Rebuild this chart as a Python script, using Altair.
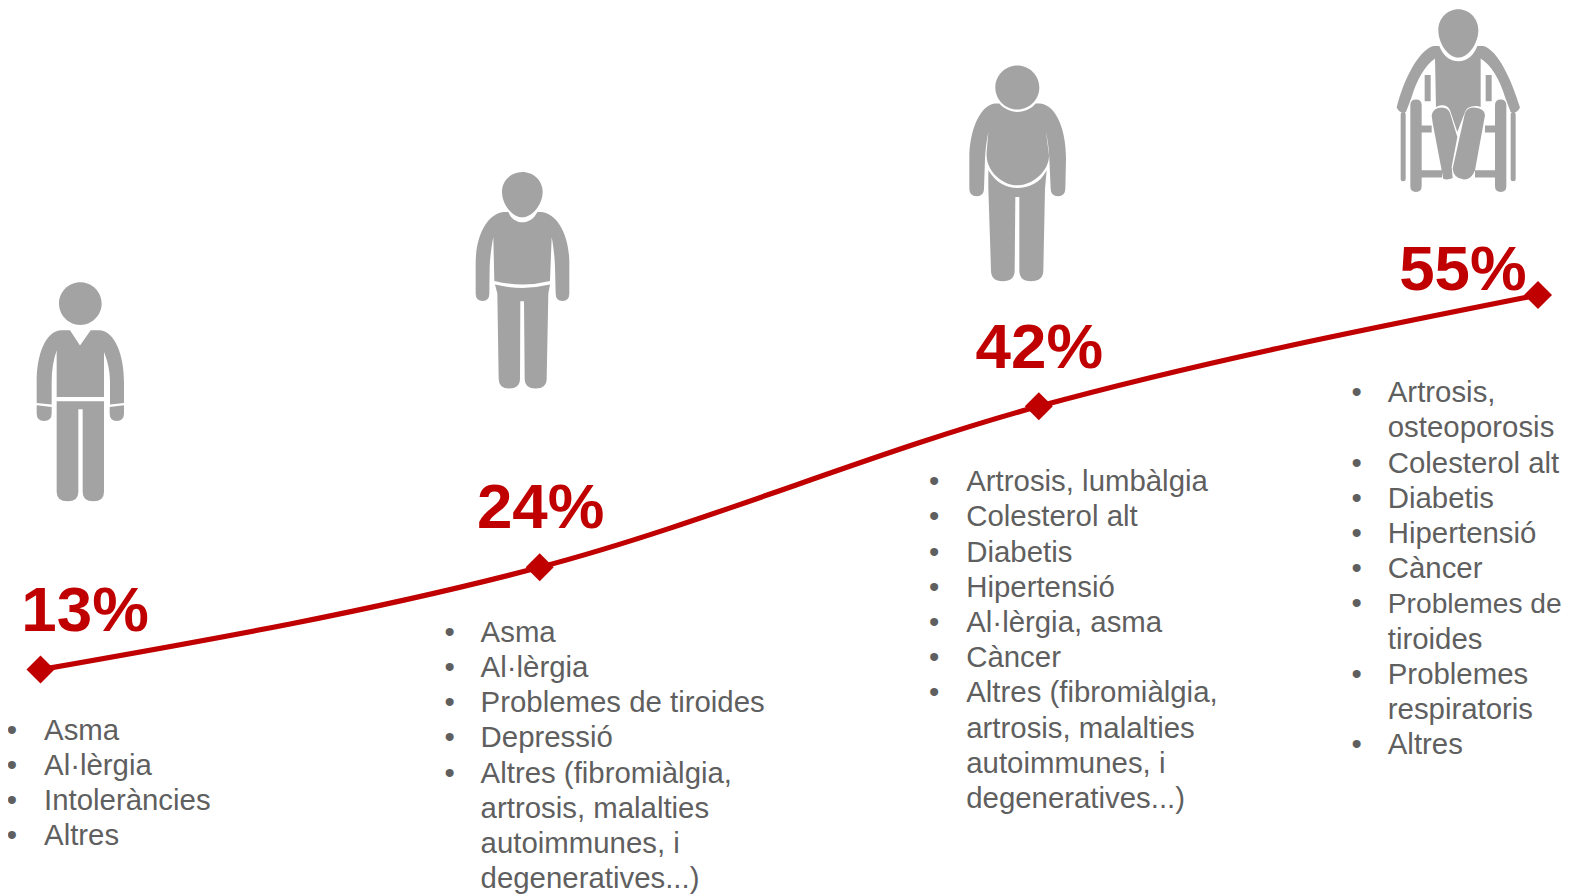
import re
import altair as alt
import pandas as pd

stages = [0, 1, 2, 3]
percents = [13, 24, 42, 55]
percent_labels = ["13%", "24%", "42%", "55%"]
RED = "#c00000"
GRAY = "#a3a3a3"
TEXT = "#5f5f5f"
FONT = "Liberation Sans"

# Each item is a list of wrapped lines
lists = [
    [["Asma"], ["Al·lèrgia"], ["Intoleràncies"], ["Altres"]],
    [["Asma"], ["Al·lèrgia"], ["Problemes de tiroides"], ["Depressió"],
     ["Altres (fibromiàlgia,", "artrosis, malalties", "autoimmunes, i", "degeneratives...)"]],
    [["Artrosis, lumbàlgia"], ["Colesterol alt"], ["Diabetis"], ["Hipertensió"],
     ["Al·lèrgia, asma"], ["Càncer"],
     ["Altres (fibromiàlgia,", "artrosis, malalties", "autoimmunes, i", "degeneratives...)"]],
    [["Artrosis,", "osteoporosis"], ["Colesterol alt"], ["Diabetis"], ["Hipertensió"], ["Càncer"],
     ["Problemes de", "tiroides"], ["Problemes", "respiratoris"], ["Altres"]],
]
list_text_x = [44, 480, 965, 1386]
list_bullet_x = [12, 449, 933, 1355]
list_first_y = [728.5, 630.5, 480, 391]
LINE_STEP = 35.2
OFF = 8  # page margin
K = 1570 / 1568  # x positions read from the slightly shrunk preview

# The page fits the drawing into 1554px (1570 minus margins); the text runs past that,
# so everything is laid out slightly larger and the page's fitting brings it back.
W = 1562
S = W / 1554
H = round(885 * S)
BODY_SIZE = 29.38 * S
TIGHT = {"Problemes de": 0.96}  # must end before the page's right edge


def P(v):
    return (v - OFF) * S


def ellipse(cx, cy, rx, ry):
    k = 0.5523
    return (f"M{cx-rx} {cy}C{cx-rx} {cy-k*ry} {cx-k*rx} {cy-ry} {cx} {cy-ry}"
            f"C{cx+k*rx} {cy-ry} {cx+rx} {cy-k*ry} {cx+rx} {cy}"
            f"C{cx+rx} {cy+k*ry} {cx+k*rx} {cy+ry} {cx} {cy+ry}"
            f"C{cx-k*rx} {cy+ry} {cx-rx} {cy+k*ry} {cx-rx} {cy}Z")


def egg(cx, top, bottom, rx):
    mid = top + (bottom - top) * 0.43
    up = (mid - top) * 0.5523
    down = (bottom - mid) * 0.5
    kx = rx * 0.5523
    lx = rx * 0.5
    return (f"M{cx-rx} {mid}C{cx-rx} {mid-up} {cx-kx} {top} {cx} {top}"
            f"C{cx+kx} {top} {cx+rx} {mid-up} {cx+rx} {mid}"
            f"C{cx+rx} {mid+down} {cx+lx} {bottom} {cx} {bottom}"
            f"C{cx-lx} {bottom} {cx-rx} {mid+down} {cx-rx} {mid}Z")


def rbar(x0, x1, y0, y1):
    r = (x1 - x0) / 2
    return (f"M{x0} {y0+r}Q{x0} {y0} {x0+r} {y0}Q{x1} {y0} {x1} {y0+r}L{x1} {y1-r}"
            f"Q{x1} {y1} {x0+r} {y1}Q{x0} {y1} {x0} {y1-r}Z")


def rect(x0, x1, y0, y1):
    return f"M{x0} {y0}L{x1} {y0}L{x1} {y1}L{x0} {y1}Z"


def shrink(path):
    # icon outlines were measured at 3x; symbol paths are drawn at 1 unit = 1px
    return re.sub(r"-?\d+\.?\d*", lambda m: f"{float(m.group())/3:.2f}", path)


fig1 = ellipse(241, 100, 64, 64) + (
    "M210 180L240 226L272 180L300 180C345 185 372 255 372 335L372 398L330 403L330 335C330 300 322 270 312 245"
    "L312 380L170 380L170 240C160 270 155 300 155 335L155 403L110 398L110 335C110 255 135 185 182 180Z"
    "M110 405L155 410L155 430Q155 452 132 452Q110 452 110 430Z"
    "M329 410L372 405L372 430Q372 452 350 452Q329 452 329 430Z"
    "M170 393L312 393L312 665Q312 693 280 693Q248 693 248 665L248 417L235 417L235 665Q235 693 203 693Q170 693 170 665Z"
)
fig2 = egg(247, 35, 171, 61) + (
    "M190 155L205 155C212 175 230 186 247 186C265 186 283 175 292 155L305 155C350 160 388 220 388 310L388 400"
    "Q388 422 367 422Q347 422 347 400L345 320C344 290 340 255 335 230L330 362Q247 383 163 362L160 230"
    "C155 255 150 290 149 320L148 400Q148 422 128 422Q107 422 107 400L107 310C107 220 145 160 190 155Z"
    "M165 373Q247 393 330 373L325 400L320 655Q320 685 287 685Q254 685 254 655L252 423L241 423L240 655"
    "Q240 685 207 685Q176 685 176 655L172 400Z"
)
fig3 = ellipse(232, 97, 66, 66) + (
    "M165 145L178 145C190 160 212 170 232 170C255 170 275 160 287 145L300 145C350 150 378 225 378 310L376 400"
    "Q376 423 354 423Q332 423 332 400L328 310C327 280 323 255 318 230L327 300C328 345 280 390 232 390"
    "C185 390 135 345 140 290L145 230C140 255 136 285 135 310L132 400Q132 423 110 423Q88 423 88 400L88 310"
    "C88 225 120 150 165 145Z"
    "M145 345C170 385 200 398 232 398C265 398 300 385 320 345L315 400L310 645Q310 678 272 678Q238 678 238 645"
    "L238 425L226 425L224 645Q224 678 188 678Q153 678 153 645L145 400Z"
)
fig4 = egg(265, 27, 172, 60) + (
    "M190 137L208 137C218 165 240 183 265 183C290 183 312 165 322 137L340 137C385 150 425 240 450 322"
    "Q440 342 422 335L405 290C390 240 365 195 332 175L332 320Q320 315 310 318C295 320 290 325 285 335L262 395"
    "L240 330C235 318 225 315 215 315Q205 316 198 320L195 175C165 195 140 240 125 290L108 335Q90 342 80 322"
    "C100 240 145 150 190 137Z"
    "M185 345Q190 322 215 322Q235 323 240 338L262 410L245 500L248 533Q235 540 220 536L188 368Z"
    "M285 338Q292 322 312 322Q345 325 345 345L315 510Q305 538 282 538Q250 535 248 505Z"
) + rbar(121, 155, 298, 575) + rbar(375, 409, 298, 575) + rbar(92, 107, 335, 543) + rbar(422, 437, 335, 543) + (
    rect(155, 185, 376, 397) + rect(345, 375, 376, 397) + rect(155, 216, 510, 532) + rect(315, 375, 510, 532)
    + rect(164, 182, 224, 303) + rect(347, 365, 224, 303)
)
fig_shape = [shrink(p) for p in (fig1, fig2, fig3, fig4)]
fig_x = [0, 440, 940, 1370]
fig_y = [268, 158, 53, -2]

label_x = [85, 540, 1038, 1461]
label_y = [629, 526, 366, 288]

# tables
line_df = pd.DataFrame({"stage": stages, "pct": percents, "label": percent_labels})
fig_df = pd.DataFrame({"x": [P(v) for v in fig_x], "y": [P(v) for v in fig_y], "path": fig_shape})
lab_df = pd.DataFrame({"x": [P(v * K) for v in label_x], "y": [P(v) for v in label_y], "label": percent_labels})

rows, bullets = [], []
for i, items in enumerate(lists):
    n = 0
    for item in items:
        for j, txt in enumerate(item):
            y = P(list_first_y[i] + n * LINE_STEP)
            rows.append({"x": P(list_text_x[i] * K), "y": y, "t": txt, "fs": BODY_SIZE * TIGHT.get(txt, 1)})
            if j == 0:
                bullets.append({"x": P(list_bullet_x[i] * K), "y": y, "t": "•"})
            n += 1
rows_df = pd.DataFrame(rows)
bullets_df = pd.DataFrame(bullets)

x_stage = alt.X("stage:Q", axis=None, scale=alt.Scale(domain=[0, 3], range=[P(40.5), P(1538)]))
y_pct = alt.Y("pct:Q", axis=None,
              scale=alt.Scale(domain=[13, 24, 42, 55], range=[P(667.3), P(565), P(404), P(292.7)]))

line = alt.Chart(line_df).mark_line(color=RED, strokeWidth=5.2 * S, interpolate="monotone").encode(x=x_stage, y=y_pct)
marks = alt.Chart(line_df).mark_point(shape="diamond", filled=True, fill=RED, opacity=1, strokeWidth=0,
                                      size=784 * S * S).encode(x=x_stage, y=y_pct)
px = alt.X("x:Q", axis=None, scale=None)
py = alt.Y("y:Q", axis=None, scale=None)
figs = alt.Chart(fig_df).mark_point(filled=True, fill=GRAY, opacity=1, strokeWidth=0).encode(
    x=px, y=py, shape=alt.Shape("path:N", scale=None, legend=None), size=alt.value(4 * S * S))
pct_text = alt.Chart(lab_df).mark_text(font=FONT, fontWeight="bold", fontSize=63.7 * S, color=RED, align="center",
                                       baseline="alphabetic").encode(x=px, y=py, text="label:N")
item_text = alt.Chart(rows_df).mark_text(font=FONT, color=TEXT, align="left", baseline="middle").encode(
    x=px, y=py, text="t:N", size=alt.Size("fs:Q", scale=None, legend=None))
bullet_text = alt.Chart(bullets_df).mark_text(font=FONT, fontSize=BODY_SIZE, color=TEXT, align="center",
                                              baseline="middle").encode(x=px, y=py, text="t:N")

chart = (alt.layer(line, marks, figs, pct_text, item_text, bullet_text)
         .resolve_scale(x="independent", y="independent")
         .properties(width=W, height=H, padding=0, autosize=alt.AutoSizeParams(type="none"), background="white")
         .configure_view(stroke=None))
chart.save("out.html", embed_options={"renderer": "svg", "actions": False})
